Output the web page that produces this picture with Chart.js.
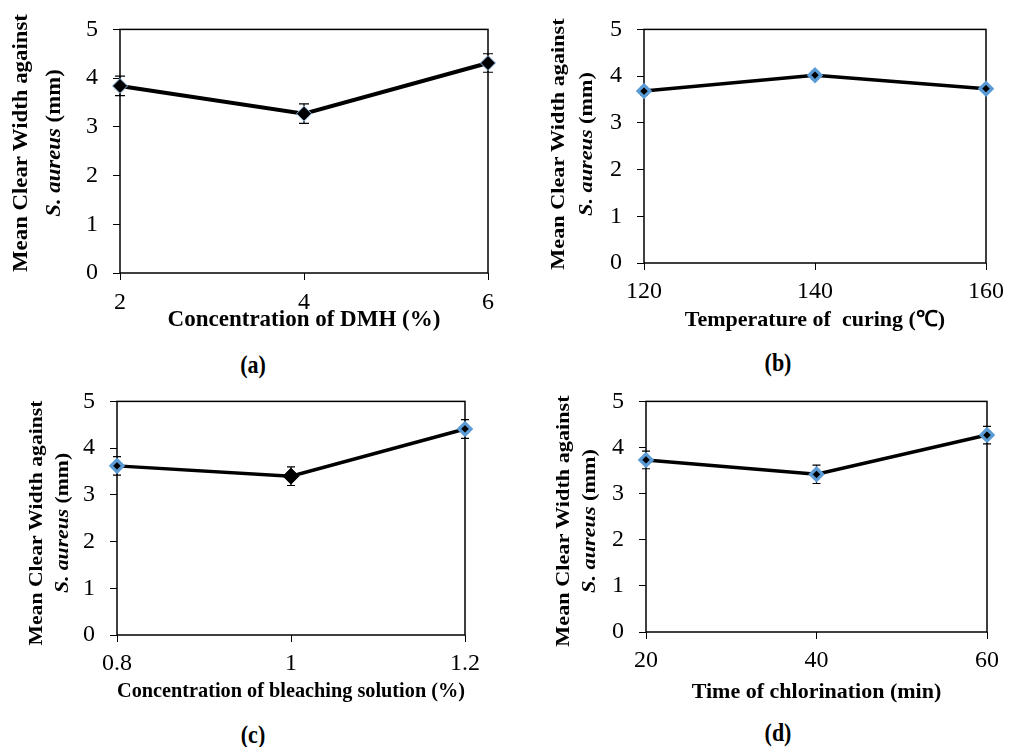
<!DOCTYPE html>
<html>
<head>
<meta charset="utf-8">
<script src="https://cdn.jsdelivr.net/npm/chart.js@4.4.1/dist/chart.umd.min.js"></script>
<style>
  body { margin: 0; background: #fff; width: 1011px; height: 747px; position: relative; overflow: hidden;
         font-family: 'Liberation Serif', 'Times New Roman', serif; color: #000; }
  canvas { position: absolute; }
  .ytitle { position: absolute; white-space: nowrap; font-weight: bold; line-height: 1;
            transform: translate(-50%, -50%) rotate(-90deg) scaleX(1.14); }
  .plabel { position: absolute; font-weight: bold; font-size: 22px; line-height: 1;
            transform: translate(-50%, -50%) scaleY(1.12); }
</style>
</head>
<body>

<script>
// x categories of each panel
const dmhLevels = ['2', '4', '6'];
const curingTemps = ['120', '140', '160'];
const bleachLevels = ['0.8', '1', '1.2'];
const chlorTimes = ['20', '40', '60'];

// mean clear width against S. aureus (mm)
const widthDmh = [3.84, 3.27, 4.31];
const widthCuring = [3.68, 4.02, 3.73];
const widthBleach = [3.62, 3.40, 4.41];
const widthChlor = [3.73, 3.42, 4.27];

// error bars (+/- mm)
const errDmh = [0.20, 0.20, 0.19];
const errCuring = [0.08, 0.08, 0.06];
const errBleach = [0.20, 0.20, 0.20];
const errChlor = [0.19, 0.20, 0.19];

const FONT = "'Liberation Serif', 'Times New Roman', serif";
const BLUE = '#5B9BD5';

// marker looks
const markerLooks = {
  dark: { r: 7.5, bg: '#000', border: '#8fbce6', bw: 1 },
  blue: { r: 6, bg: '#000', border: BLUE, bw: 3.2 },
  bigdark: { r: 8, bg: '#000', border: '#000', bw: 1 }
};

// panels: box = canvas [x, y, w, h], area = plot area [left, top, right, bottom]
const panels = [
  { tag: '(a)', labels: dmhLevels, values: widthDmh, errors: errDmh,
    xTitle: 'Concentration of DMH (%)', titleSize: 23, titlePad: 11,
    box: [0, 0, 505, 345], area: [120, 21, 488, 273], lineW: 4, cap: 5, tickPad: 8,
    markers: ['dark', 'dark', 'dark'],
    yTitle: [20, 53, 143, 20], tagPos: [253, 365] },
  { tag: '(b)', labels: curingTemps, values: widthCuring, errors: errCuring,
    xTitle: 'Temperature of  curing (\u2103)', titleSize: 22, titlePad: 11,
    box: [505, 0, 506, 345], area: [644, 16, 990, 263], lineW: 3.5, cap: 4, tickPad: 7,
    markers: ['blue', 'blue', 'blue'],
    yTitle: [558, 586, 144, 19.5], tagPos: [778, 363] },
  { tag: '(c)', labels: bleachLevels, values: widthBleach, errors: errBleach,
    xTitle: 'Concentration of bleaching solution (%)', titleSize: 22, titlePad: 12,
    box: [0, 372, 505, 345], area: [117, 389, 465, 635], lineW: 3.5, cap: 4, tickPad: 7,
    markers: ['blue', 'bigdark', 'blue'],
    yTitle: [35, 61, 523, 19], tagPos: [253, 735] },
  { tag: '(d)', labels: chlorTimes, values: widthChlor, errors: errChlor,
    xTitle: 'Time of chlorination (min)', titleSize: 22, titlePad: 11,
    box: [505, 372, 506, 345], area: [646, 389, 987, 632], lineW: 3.5, cap: 4, tickPad: 7,
    markers: ['blue', 'blue', 'blue'],
    yTitle: [563, 589, 521, 19.5], tagPos: [778, 733] }
];

// box round the plot area
const frame = {
  id: 'frame',
  beforeDatasetsDraw(chart) {
    const { ctx, chartArea: a } = chart;
    ctx.save();
    ctx.strokeStyle = '#000';
    ctx.lineWidth = 1.5;
    ctx.strokeRect(a.left, a.top, a.right - a.left, a.bottom - a.top);
    ctx.restore();
  }
};

// vertical error bars with caps
const errorBars = {
  id: 'errorBars',
  beforeDatasetsDraw(chart, args, opts) {
    const { ctx, scales: { x, y } } = chart;
    const data = chart.data.datasets[0].data;
    ctx.save();
    ctx.strokeStyle = '#000';
    ctx.lineWidth = 1.2;
    opts.errors.forEach((e, i) => {
      const px = x.getPixelForValue(i);
      const top = y.getPixelForValue(data[i] + e);
      const bot = y.getPixelForValue(data[i] - e);
      ctx.beginPath();
      ctx.moveTo(px, top); ctx.lineTo(px, bot);
      ctx.moveTo(px - opts.cap, top); ctx.lineTo(px + opts.cap, top);
      ctx.moveTo(px - opts.cap, bot); ctx.lineTo(px + opts.cap, bot);
      ctx.stroke();
    });
    ctx.restore();
  }
};

function addText(cls, html, x, y, size) {
  const d = document.createElement('div');
  d.className = cls;
  d.innerHTML = html;
  d.style.left = x + 'px';
  d.style.top = y + 'px';
  if (size) d.style.fontSize = size + 'px';
  document.body.appendChild(d);
}

function makePanel(p) {
  const [bx, by, bw, bh] = p.box;
  const [al, at, ar, ab] = p.area;
  const canvas = document.createElement('canvas');
  canvas.width = bw;
  canvas.height = bh;
  canvas.style.left = bx + 'px';
  canvas.style.top = by + 'px';
  canvas.style.width = bw + 'px';
  canvas.style.height = bh + 'px';
  document.body.appendChild(canvas);

  const looks = p.markers.map(m => markerLooks[m]);

  new Chart(canvas.getContext('2d'), {
    type: 'line',
    data: {
      labels: p.labels,
      datasets: [{
        data: p.values,
        borderColor: '#000',
        borderWidth: p.lineW,
        pointStyle: 'rectRot',
        pointRadius: looks.map(l => l.r),
        pointBackgroundColor: looks.map(l => l.bg),
        pointBorderColor: looks.map(l => l.border),
        pointBorderWidth: looks.map(l => l.bw),
        tension: 0,
        clip: false
      }]
    },
    options: {
      responsive: false,
      animation: false,
      devicePixelRatio: 1,
      layout: { padding: { left: 0, top: at - by, right: bx + bw - ar, bottom: 0 } },
      plugins: {
        legend: { display: false },
        tooltip: { enabled: false },
        errorBars: { errors: p.errors, cap: p.cap }
      },
      scales: {
        x: {
          type: 'category',
          offset: false,
          afterFit(s) { s.height = by + bh - ab; },
          grid: { drawOnChartArea: false, drawTicks: true, tickLength: 7, color: '#000', lineWidth: 1, offset: false },
          border: { display: false },
          ticks: { color: '#000', padding: p.tickPad, maxRotation: 0, autoSkip: false,
                   font: { family: FONT, size: 24 } },
          title: { display: true, text: p.xTitle, color: '#000',
                   padding: { top: 0, bottom: p.titlePad },
                   font: { family: FONT, size: p.titleSize, weight: 'bold' } }
        },
        y: {
          min: 0,
          max: 5,
          afterFit(s) { s.width = al - bx; },
          grid: { drawOnChartArea: false, drawTicks: true, tickLength: 7, color: '#000', lineWidth: 1 },
          border: { display: false },
          ticks: { stepSize: 1, color: '#000', padding: 15,
                   font: { family: FONT, size: 24 } }
        }
      }
    },
    plugins: [frame, errorBars]
  });

  const [x1, x2, yc, fs] = p.yTitle;
  addText('ytitle', 'Mean Clear Width against', x1, yc, fs);
  addText('ytitle', '<i>S. aureus</i> (mm)', x2, yc, fs);
  addText('plabel', p.tag, p.tagPos[0], p.tagPos[1]);
}

panels.forEach(makePanel);
</script>
</body>
</html>
